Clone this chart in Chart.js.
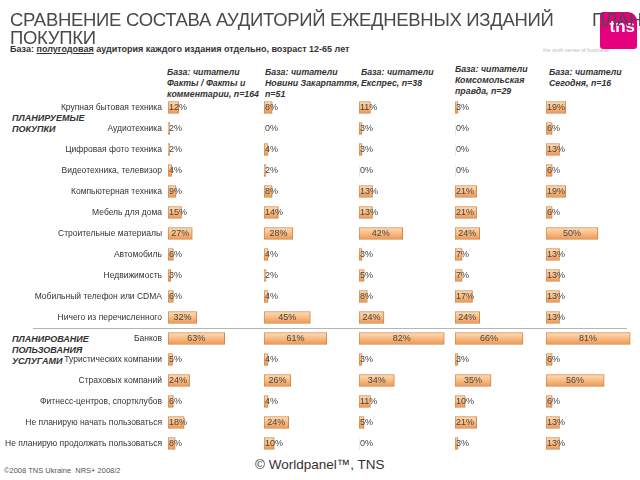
<!DOCTYPE html>
<html>
<head>
<meta charset="utf-8">
<script src="https://cdn.jsdelivr.net/npm/chart.js@4"></script>
<style>
  html, body { margin: 0; padding: 0; }
  body { width: 640px; height: 480px; position: relative; overflow: hidden; background: #fff;
         font-family: "Liberation Sans", Arial, sans-serif; color: #333; }
  .abs { position: absolute; white-space: nowrap; }
  .title { font-size: 18.5px; letter-spacing: -0.3px; color: #4a4a4a; line-height: 19px; z-index: 2; }
  .sub { font-size: 9px; font-weight: bold; color: #333; }
  .hdr { font-size: 8.8px; font-weight: bold; font-style: italic; color: #333; line-height: 11px; }
  .sect { font-size: 9px; font-weight: bold; font-style: italic; color: #333; line-height: 11px; }
  .logo { position: absolute; left: 600px; top: 12px; width: 37px; height: 37px; background: #e5007e;
          border-radius: 3px 9px 3px 3px; color: #fff; font-weight: bold; font-size: 17px; text-align: right;
          line-height: 30px; padding-right: 2px; box-sizing: border-box; z-index: 1; }
  canvas { position: absolute; }
</style>
</head>
<body>
<div class="abs title" style="left:10px;top:10px;">СРАВНЕНИЕ СОСТАВА АУДИТОРИЙ ЕЖЕДНЕВНЫХ ИЗДАНИЙ</div>
<div class="abs title" style="left:592px;top:10px;">ПЛАНИРУЕМЫЕ</div>
<div class="abs title" style="left:10px;top:28px;">ПОКУПКИ</div>
<div class="logo">tns</div>
<div class="abs" style="left:543px;top:47px;font-size:5.5px;color:#bbb;">the sixth sense of business"</div>
<div class="abs sub" style="left:10px;top:44px;">База: <u>полугодовая</u> аудитория каждого издания отдельно, возраст 12-65 лет</div>

<div class="abs hdr" style="left:167px;top:67px;">База: читатели<br>Факты / Факты и<br>комментарии, n=164</div>
<div class="abs hdr" style="left:265px;top:67px;">База: читатели<br>Новини Закарпаття,<br>n=51</div>
<div class="abs hdr" style="left:361px;top:67px;">База: читатели<br>Експрес, n=38</div>
<div class="abs hdr" style="left:455px;top:64px;">База: читатели<br>Комсомольская<br>правда, n=29</div>
<div class="abs hdr" style="left:549px;top:67px;">База: читатели<br>Сегодня, n=16</div>

<div class="abs sect" style="left:12px;top:113px;">ПЛАНИРУЕМЫЕ<br>ПОКУПКИ</div>
<div class="abs sect" style="left:12px;top:334px;">ПЛАНИРОВАНИЕ<br>ПОЛЬЗОВАНИЯ<br>УСЛУГАМИ</div>
<div class="abs" style="left:33px;top:328px;width:594px;height:1px;background:#b4b4b4;"></div>

<div class="abs" style="left:4px;top:466px;font-size:7.5px;color:#555;">©2008 TNS Ukraine &nbsp;NRS+ 2008/2</div>
<div class="abs" style="left:255px;top:457px;font-size:13.5px;color:#333;">© Worldpanel™, TNS</div>

<canvas id="c0"></canvas>
<canvas id="c1"></canvas>
<canvas id="c2"></canvas>
<canvas id="c3"></canvas>
<canvas id="c4"></canvas>

<script>
const categories = [
  'Крупная бытовая техника', 'Аудиотехника', 'Цифровая фото техника', 'Видеотехника, телевизор',
  'Компьютерная техника', 'Мебель для дома', 'Строительные материалы', 'Автомобиль',
  'Недвижимость', 'Мобильный телефон или CDMA', 'Ничего из перечисленного',
  'Банков', 'Туристических компании', 'Страховых компаний', 'Фитнесс-центров, спортклубов',
  'Не планирую начать пользоваться', 'Не планирую продолжать пользоваться'
];

const fakty      = [12, 2, 2, 4, 9, 15, 27, 6, 3, 6, 32, 63, 5, 24, 6, 18, 8];
const novyny     = [8, 0, 4, 2, 8, 14, 28, 4, 2, 4, 45, 61, 4, 26, 4, 24, 10];
const ekspres    = [11, 3, 3, 0, 13, 13, 42, 3, 5, 8, 24, 82, 3, 34, 11, 5, 0];
const kp         = [3, 0, 0, 0, 21, 21, 24, 7, 7, 17, 24, 66, 3, 35, 10, 21, 3];
const segodnya   = [19, 6, 13, 6, 19, 6, 50, 13, 13, 13, 13, 81, 6, 56, 6, 13, 13];

const series = [fakty, novyny, ekspres, kp, segodnya];

// layout of the five columns (left edge of 0% and pixels per percent)
const colLeft = [168, 264, 359, 455, 546];
const colScale = [0.9, 1.03, 1.04, 1.03, 1.04];
const rowH = 21, top0 = 97;

function barFill(c) {
  const ch = c.chart;
  if (c.type !== 'data' || !ch.chartArea || !ch.scales.y) return '#f6b47a';
  const y = ch.scales.y.getPixelForValue(c.dataIndex);
  const g = ch.ctx.createLinearGradient(0, y - 6, 0, y + 6);
  g.addColorStop(0, '#fddcb8');
  g.addColorStop(0.5, '#f8bb83');
  g.addColorStop(1, '#eb9651');
  return g;
}

const valueLabels = {
  id: 'valueLabels',
  afterDatasetsDraw(chart) {
    const ctx = chart.ctx;
    const xs = chart.scales.x;
    const data = chart.data.datasets[0].data;
    ctx.save();
    ctx.font = '9px "Liberation Sans", Arial, sans-serif';
    ctx.fillStyle = '#444';
    ctx.textBaseline = 'middle';
    chart.getDatasetMeta(0).data.forEach((el, i) => {
      const t = data[i] + '%';
      const x0 = xs.getPixelForValue(0);
      const w = ctx.measureText(t).width;
      if (el.x - x0 >= w + 4) {
        ctx.textAlign = 'center';
        ctx.fillText(t, (x0 + el.x) / 2, el.y + 0.5);
      } else {
        ctx.textAlign = 'left';
        ctx.fillText(t, x0 + 1, el.y + 0.5);
      }
    });
    ctx.restore();
  }
};

series.forEach((vals, k) => {
  const cv = document.getElementById('c' + k);
  const plotW = Math.round(100 * colScale[k]);
  const left = k === 0 ? 0 : colLeft[k];
  const width = k === 0 ? colLeft[0] + plotW : plotW;
  cv.style.left = left + 'px';
  cv.style.top = top0 + 'px';
  cv.width = width;
  cv.height = rowH * categories.length;
  cv.style.width = width + 'px';
  cv.style.height = cv.height + 'px';

  new Chart(cv.getContext('2d'), {
    type: 'bar',
    data: {
      labels: categories,
      datasets: [{
        data: vals,
        backgroundColor: barFill,
        borderColor: '#cf8748',
        borderWidth: c => (c.raw === 0 ? 0 : 1),
        borderSkipped: false,
        barThickness: 12
      }]
    },
    options: {
      indexAxis: 'y',
      responsive: false,
      animation: false,
      layout: { padding: 0 },
      plugins: { legend: { display: false }, tooltip: { enabled: false } },
      scales: {
        x: { display: false, min: 0, max: 100 },
        y: {
          display: k === 0,
          grid: { display: false, drawTicks: false },
          border: { display: false },
          ticks: {
            autoSkip: false,
            padding: 6,
            color: '#333',
            font: { family: '"Liberation Sans", Arial, sans-serif', size: 8.5 }
          },
          afterFit: s => {
            if (k !== 0) return;
            s.width = colLeft[0];
            s.paddingTop = 0;
            s.paddingBottom = 0;
          }
        }
      }
    },
    plugins: [valueLabels]
  });
});
</script>
</body>
</html>
